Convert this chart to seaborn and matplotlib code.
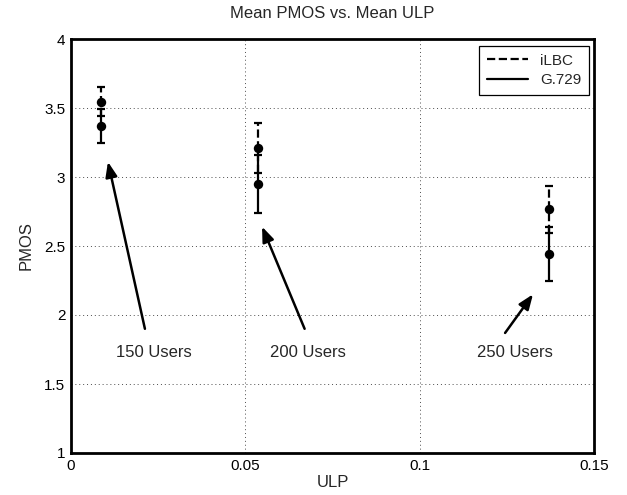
import matplotlib
matplotlib.use("Agg")
import matplotlib.pyplot as plt
import seaborn as sns
import pandas as pd
import numpy as np
from matplotlib.lines import Line2D

# ---- data ----
groups = ["150 Users", "200 Users", "250 Users"]
ulp = [0.0086, 0.0535, 0.137]
ilbc_pmos = [3.546, 3.21, 2.765]
ilbc_err = [0.105, 0.18, 0.17]
g729_pmos = [3.37, 2.95, 2.445]
g729_err = [0.12, 0.21, 0.195]
codecs = ["iLBC", "G.729"]

label_pos = [(0.0238, 1.73), (0.068, 1.73), (0.1273, 1.73)]
arrow_tail = [(0.0212, 1.90), (0.067, 1.90), (0.1245, 1.87)]
arrow_head = [(0.0106, 3.11), (0.0548, 2.64), (0.1325, 2.15)]

xticks = [0, 0.05, 0.1, 0.15]
xticklabels = ["0", "0.05", "0.1", "0.15"]
yticks = [1, 1.5, 2, 2.5, 3, 3.5, 4]
yticklabels = ["1", "1.5", "2", "2.5", "3", "3.5", "4"]

df = pd.DataFrame({
    "ULP": ulp * 2,
    "PMOS": ilbc_pmos + g729_pmos,
    "err": ilbc_err + g729_err,
    "codec": ["iLBC"] * 3 + ["G.729"] * 3,
})

sns.set_style("white")
plt.rcParams["font.family"] = ["Liberation Sans", "DejaVu Sans"]

fig = plt.figure(figsize=(6.27, 4.95), dpi=100)
ax = fig.add_axes([71 / 627, 42 / 495, 523 / 627, 414 / 495])

styles = {"iLBC": "--", "G.729": "-"}
for c in codecs:
    sub = df[df["codec"] == c]
    eb = ax.errorbar(sub["ULP"], sub["PMOS"], yerr=sub["err"], fmt="none",
                     ecolor="black", elinewidth=1.6, capsize=2.8, capthick=1.6,
                     zorder=3)
    eb[2][0].set_linestyle(styles[c])

sns.scatterplot(data=df, x="ULP", y="PMOS", color="black", s=46,
                edgecolor="black", linewidth=0, legend=False, ax=ax, zorder=4)

handles = [Line2D([0], [0], color="black", lw=1.6, ls=styles[c]) for c in codecs]
leg = ax.legend(handles, codecs, loc="upper right", fancybox=False,
                edgecolor="black", framealpha=1, fontsize=11,
                handlelength=2.7, borderpad=0.5, labelspacing=0.35,
                borderaxespad=0, bbox_to_anchor=(1 - 5 / 523, 1 - 7 / 414))
leg.get_frame().set_linewidth(0.9)

for g, lp, tail, head in zip(groups, label_pos, arrow_tail, arrow_head):
    ax.annotate("", xy=head, xytext=tail,
                arrowprops=dict(arrowstyle="-|>,head_length=0.9,head_width=0.35",
                                color="black", lw=1.8, shrinkA=0, shrinkB=0))
    ax.text(lp[0], lp[1], g, ha="center", va="center", fontsize=12)

ax.set_xlim(0, 0.15)
ax.set_ylim(1, 4)
ax.set_xticks(xticks)
ax.set_xticklabels(xticklabels)
ax.set_yticks(yticks)
ax.set_yticklabels(yticklabels)
ax.tick_params(direction="in", length=5, width=1.2, labelsize=11, pad=4,
               colors="black")
ax.grid(True, linestyle=(0, (1, 3)), color="black", linewidth=0.7, alpha=0.7)
for s in ax.spines.values():
    s.set_linewidth(2)
    s.set_color("black")

ax.set_title("Mean PMOS vs. Mean ULP", fontsize=12, pad=15)
ax.set_xlabel("ULP", fontsize=12, labelpad=2)
ax.set_ylabel("PMOS", fontsize=12, labelpad=8)

fig.savefig("out.png", dpi=100)
